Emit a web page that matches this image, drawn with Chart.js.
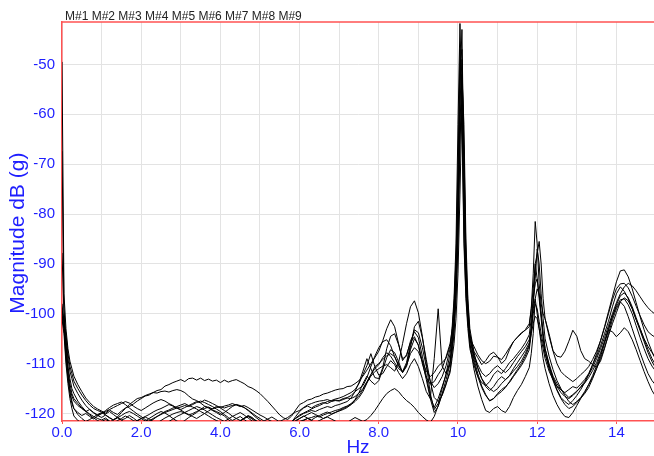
<!DOCTYPE html>
<html>
<head>
<meta charset="utf-8">
<script src="https://cdn.jsdelivr.net/npm/chart.js@4.4.1/dist/chart.umd.min.js"></script>
<style>
  html, body { margin: 0; padding: 0; background: #fff; }
  canvas { display: block; }
</style>
</head>
<body>
<canvas id="chart" width="654" height="456"></canvas>
<script>
// frequency axis (Hz), finer around 0, 10 and 12 Hz
const freq = [
  0, 0.05, 0.1, 0.15, 0.2, 0.25, 0.3,
  0.4, 0.5, 0.6, 0.7, 0.8, 0.9,
  1.0, 1.1, 1.2, 1.3, 1.4, 1.5, 1.6, 1.7, 1.8, 1.9,
  2.0, 2.1, 2.2, 2.3, 2.4, 2.5, 2.6, 2.7, 2.8, 2.9,
  3.0, 3.1, 3.2, 3.3, 3.4, 3.5, 3.6, 3.7, 3.8, 3.9,
  4.0, 4.1, 4.2, 4.3, 4.4, 4.5, 4.6, 4.7, 4.8, 4.9,
  5.0, 5.1, 5.2, 5.3, 5.4, 5.5, 5.6, 5.7, 5.8, 5.9,
  6.0, 6.1, 6.2, 6.3, 6.4, 6.5, 6.6, 6.7, 6.8, 6.9,
  7.0, 7.1, 7.2, 7.3, 7.4, 7.5, 7.6, 7.7, 7.8, 7.9,
  8.0, 8.1, 8.2, 8.3, 8.4, 8.5, 8.6, 8.7, 8.8, 8.9,
  9.0, 9.1, 9.2, 9.3, 9.4, 9.5, 9.6, 9.7, 9.8,
  9.85, 9.9, 9.95, 10.0, 10.05, 10.1, 10.15, 10.2, 10.25, 10.3,
  10.4, 10.5, 10.6, 10.7, 10.8, 10.9, 11.0, 11.1, 11.2, 11.3, 11.4, 11.5, 11.6, 11.7, 11.8,
  11.85, 11.9, 11.95, 12.0, 12.05, 12.1, 12.15, 12.2,
  12.3, 12.4, 12.5, 12.6, 12.7, 12.8, 12.9, 13.0, 13.1, 13.2, 13.3, 13.4, 13.5, 13.6,
  13.7, 13.8, 13.9, 14.0, 14.1, 14.2, 14.3, 14.4, 14.5, 14.6, 14.7, 14.8, 14.9, 15.0
];

const m1 = [
  -49.5, -96, -103, -107, -109.5, -111, -112.5,
  -114.2, -115.6, -116.9, -117.8, -118.6, -119.1,
  -119.5, -119.9, -119.3, -119.8, -120.2, -119.5, -118.9, -118.6, -118.1, -117.5,
  -117.0, -116.5, -116.3, -115.8, -115.4, -115.2, -114.5, -114.2, -113.8, -113.5,
  -113.2, -113.6, -113.0, -112.9, -113.3, -112.9, -113.4, -113.1, -113.5, -113.3,
  -113.8, -113.3, -113.7, -113.4, -113.2, -113.6, -114.0, -114.6, -114.9, -115.4,
  -116.0, -116.8, -117.6, -118.5, -119.4, -120.3, -120.9, -121.2, -120.5, -119.3,
  -118.2, -117.8, -117.3, -117.1, -116.7, -116.5, -116.1, -115.9, -115.6, -115.3,
  -115.1, -115.0, -114.6, -114.5, -114.0, -113.4, -112.5, -111.3, -110.0, -108.8,
  -107.5, -105.4, -103.0, -101.2, -102.6, -106.0, -109.4, -108.2, -105.8, -104.6,
  -106.4, -110.0, -112.8, -114.1, -113.6, -112.2, -111.0, -108.6, -106.0,
  -103.5, -99, -91, -80, -62, -52, -66, -88, -98, -104,
  -108.5, -111.0, -113.0, -114.2, -115.0, -115.6, -115.0, -114.0, -113.2, -112.5, -111.5, -110.6, -109.5, -108.0, -106.2,
  -104, -102, -100.5, -101, -103, -105, -107, -109,
  -111.5, -113.2, -114.5, -115.3, -115.8, -115.2, -114.6, -114.9, -114.1, -113.2, -112.0, -110.2, -108.5, -106.4,
  -104.0, -101.5, -98.6, -96.0, -94.6, -95.5, -97.0, -99.0, -101.2, -103.0, -105.0, -106.6, -107.8, -109.0
];

const m2 = [
  -67.4, -99, -105, -109, -111.5, -113, -114.5,
  -116.0, -117.3, -118.4, -119.2, -119.9, -120.4,
  -120.8, -120.3, -120.9, -121.3, -120.7, -119.8, -119.0, -118.2, -117.6, -117.0,
  -116.8, -116.4, -116.1, -115.8, -115.9, -115.6, -115.5, -115.7, -115.4, -115.2,
  -115.4, -115.8, -116.5, -117.1, -117.4, -117.9, -118.5, -118.8, -119.3, -119.6,
  -120.0, -120.5, -121.2, -121.8, -122.3, -121.6, -120.9, -120.4, -120.8, -121.5,
  -122.2, -122.8, -123.0, -122.5, -121.9, -122.6, -123.2, -122.8, -121.8, -120.6,
  -119.6, -118.9, -118.5, -118.9, -118.4, -118.1, -117.8, -118.0, -117.6, -117.4,
  -117.5, -117.2, -116.9, -117.0, -116.6, -115.9, -115.0, -113.6, -112.2, -111.0,
  -110.2, -108.8, -107.8, -108.5, -109.8, -111.0, -111.6, -110.4, -108.0, -106.8,
  -107.6, -109.5, -111.5, -112.6, -111.8, -110.5, -109.8, -108.9, -106.5,
  -103, -97, -86, -62, -41.8, -58, -84, -96, -102, -105,
  -106.5, -108.2, -109.4, -110.0, -109.5, -108.5, -108.7, -109.2, -108.1, -106.8, -105.6, -104.7, -104.0, -103.2, -102.0,
  -99, -95, -90, -88, -85.5, -90, -97, -101,
  -104.5, -107.5, -110.0, -111.6, -112.4, -113.0, -113.6, -113.0, -112.2, -111.5, -110.6, -109.2, -107.5, -105.4,
  -102.8, -100.0, -97.2, -95.0, -94.0, -93.9, -94.8, -96.5, -98.5, -100.4, -102.2, -103.6, -104.3, -104.8
];

const m3 = [
  -87.8, -100, -106.5, -110.5, -113, -115, -116,
  -117.5, -118.6, -119.5, -120.1, -120.6, -121.0,
  -121.3, -120.9, -121.5, -122.0, -121.4, -121.0, -120.5, -120.9, -121.4, -121.8,
  -122.3, -122.0, -121.5, -121.0, -120.6, -120.2, -119.8, -119.5, -119.2, -118.9,
  -118.7, -118.4, -118.6, -118.2, -117.8, -117.5, -117.8, -118.2, -118.6, -119.1,
  -119.6, -120.2, -120.8, -121.4, -121.0, -120.6, -121.2, -121.8, -122.3, -122.8,
  -123.2, -123.5, -123.0, -122.6, -122.2, -122.8, -123.3, -123.0, -122.4, -121.9,
  -121.6, -121.3, -121.0, -120.8, -120.5, -120.7, -120.3, -120.0, -119.7, -119.4,
  -119.2, -118.8, -118.5, -118.0, -117.3, -116.4, -115.2, -113.8, -112.5, -111.6,
  -111.0, -110.5, -110.2, -110.8, -111.5, -109.8, -106.0, -102.0, -98.6, -97.4,
  -99.8, -104.5, -110.0, -116.0, -119.2, -118.0, -115.0, -112.0, -108.0,
  -105, -100, -92, -75, -47, -62, -86, -97, -103, -107,
  -110.2, -112.6, -113.8, -114.4, -113.6, -112.2, -111.4, -112.0, -111.0, -109.8, -109.0, -108.0, -107.0, -105.8, -104.2,
  -101, -97, -94, -93, -96, -100, -104, -107,
  -110.0, -112.5, -114.0, -115.2, -116.0, -116.8, -116.2, -115.5, -114.8, -113.9, -112.8, -111.4, -109.8, -107.8,
  -105.6, -103.0, -100.5, -98.6, -97.2, -97.0, -98.2, -100.0, -102.4, -104.8, -107.0, -109.0, -110.5, -111.6
];

const m4 = [
  -99.5, -101, -108, -112, -115, -116.5, -117.5,
  -118.4, -119.0, -119.6, -119.2, -119.8, -120.3,
  -120.0, -119.4, -118.8, -118.3, -118.0, -117.7, -118.2, -118.9, -119.5, -120.1,
  -120.6, -121.2, -121.6, -121.2, -120.6, -120.1, -119.6, -119.3, -118.9, -118.6,
  -118.3, -118.0, -118.4, -118.0, -117.6, -117.8, -117.3, -117.6, -118.0, -118.4,
  -118.9, -119.4, -119.9, -120.5, -121.0, -121.4, -121.0, -120.5, -120.9, -121.4,
  -121.9, -122.4, -122.0, -121.6, -121.8, -122.3, -122.8, -122.4, -121.6, -121.0,
  -120.5, -120.0, -119.7, -119.4, -119.6, -119.2, -118.9, -118.6, -118.8, -118.4,
  -118.2, -117.9, -117.6, -116.9, -115.6, -113.8, -111.5, -109.0, -111.0, -112.8,
  -113.0, -110.8, -107.0, -104.5, -104.0, -106.2, -109.0, -108.5, -105.5, -103.6,
  -104.8, -108.5, -112.4, -116.6, -118.8, -117.0, -114.6, -112.2, -109.5,
  -106, -101, -94, -82, -58, -49, -70, -92, -100, -105,
  -109.0, -112.0, -114.5, -116.2, -117.5, -117.0, -116.2, -115.6, -114.8, -113.6, -112.4, -111.2, -110.0, -108.5, -106.5,
  -103, -98, -93, -87, -90, -96, -101, -105,
  -108.5, -111.2, -113.4, -115.0, -116.4, -117.6, -118.2, -117.6, -116.8, -115.6, -114.2, -112.8, -111.0, -109.0,
  -106.8, -104.4, -102.0, -99.8, -97.6, -96.8, -97.4, -99.0, -101.2, -103.4, -105.6, -107.8, -109.6, -111.0
];

const m5 = [
  -98, -102, -104, -108, -110.5, -112, -113.5,
  -115.0, -116.3, -117.4, -118.3, -119.0, -119.4,
  -119.7, -120.1, -119.6, -120.2, -120.8, -121.3, -121.0, -120.4, -120.9, -121.5,
  -122.0, -121.6, -121.0, -120.5, -120.0, -119.6, -119.9, -120.4, -121.0, -121.5,
  -121.9, -121.4, -120.8, -120.3, -119.8, -119.2, -118.6, -118.9, -119.4, -119.8,
  -120.3, -119.8, -119.2, -118.6, -118.2, -118.5, -118.8, -119.4, -120.1, -120.8,
  -121.4, -122.0, -122.5, -122.1, -121.7, -122.3, -122.8, -122.4, -121.7, -120.9,
  -120.3, -119.9, -119.5, -119.1, -118.7, -118.4, -118.0, -117.6, -117.4, -117.1,
  -116.9, -116.6, -116.2, -115.8, -115.2, -114.0, -112.2, -110.4, -108.0, -110.6,
  -112.3, -112.0, -110.6, -109.4, -110.2, -111.8, -113.0, -112.0, -110.2, -109.0,
  -110.6, -113.0, -115.6, -117.0, -109.0, -99.0, -110.5, -112.0, -110.0,
  -107, -103, -95, -80, -55, -43, -72, -93, -101, -106,
  -109.6, -112.6, -114.8, -116.4, -117.4, -117.0, -116.0, -115.2, -114.6, -113.8, -112.6, -111.5, -110.4, -109.0, -107.2,
  -104, -98, -90, -93, -97, -101, -105, -108,
  -111.0, -113.4, -115.4, -117.0, -118.2, -119.0, -118.6, -117.8, -116.9, -116.0, -114.8, -113.0, -111.0, -108.6,
  -106.0, -103.2, -100.6, -98.2, -96.4, -95.8, -96.8, -98.6, -100.8, -103.0, -105.2, -107.2, -109.0, -110.4
];

const m6 = [
  -100, -103, -109, -113, -116, -118, -119,
  -119.8, -120.4, -120.0, -120.6, -121.1, -120.5,
  -120.0, -119.6, -119.2, -118.8, -118.4, -118.0, -117.6, -117.9, -118.5, -119.0,
  -119.4, -118.9, -118.4, -117.9, -117.5, -117.2, -117.5, -118.0, -118.4, -118.9,
  -119.3, -119.8, -120.2, -120.6, -121.0, -120.5, -120.0, -119.5, -119.0, -118.6,
  -118.8, -118.5, -118.3, -118.0, -118.3, -118.6, -118.4, -118.8, -119.3, -119.8,
  -120.3, -120.7, -121.2, -121.6, -122.0, -121.6, -121.2, -120.8, -120.2, -119.7,
  -119.4, -118.8, -118.3, -118.0, -117.7, -117.5, -117.4, -117.2, -117.5, -117.3,
  -117.4, -117.0, -116.8, -116.4, -115.6, -115.0, -114.4, -112.8, -110.6, -108.5,
  -106.8, -105.6, -105.2, -106.4, -108.6, -110.5, -111.6, -109.8, -106.2, -103.2,
  -103.8, -106.8, -110.6, -113.5, -114.8, -114.0, -112.6, -110.4, -107.0,
  -104, -98, -89, -70, -50, -47, -70, -90, -99, -104,
  -107.5, -108.8, -110.2, -109.4, -108.2, -107.7, -108.6, -110.0, -109.2, -107.2, -105.6, -104.7, -103.8, -103.3, -102.6,
  -99, -92, -81.5, -86, -94, -98, -100, -101,
  -104.0, -107.4, -108.5, -108.7, -107.5, -105.5, -103.3, -104.5, -107.4, -109.0, -109.5, -110.2, -110.7, -109.5,
  -107.0, -104.0, -101.2, -99.0, -97.6, -98.5, -100.6, -103.0, -105.4, -107.8, -110.0, -112.0, -113.4, -114.4
];

const m7 = [
  -99, -101.5, -106, -111, -114, -116, -117,
  -118.0, -118.9, -119.6, -120.3, -120.9, -121.4,
  -121.8, -122.3, -121.8, -121.2, -120.8, -121.3, -121.9, -122.4, -122.0, -121.5,
  -121.0, -120.6, -120.2, -119.7, -119.3, -119.0, -118.6, -118.2, -118.5, -118.9,
  -119.2, -118.8, -118.4, -118.7, -119.1, -119.6, -120.0, -120.5, -121.0, -121.4,
  -121.8, -122.3, -122.8, -122.4, -121.9, -121.5, -121.0, -120.6, -121.1, -121.7,
  -122.2, -122.7, -123.1, -122.6, -122.0, -121.5, -121.9, -122.4, -122.0, -121.4,
  -121.0, -120.6, -120.2, -119.8, -120.2, -120.6, -121.0, -120.6, -120.2, -119.8,
  -119.5, -119.2, -118.8, -118.2, -117.2, -115.8, -114.0, -112.5, -113.5, -114.2,
  -113.4, -111.2, -108.8, -107.2, -107.8, -109.6, -111.8, -110.6, -107.2, -105.0,
  -106.2, -109.6, -113.2, -117.0, -119.8, -118.6, -116.0, -113.2, -110.0,
  -106, -102, -96, -84, -66, -52, -62, -85, -97, -103,
  -107.6, -110.8, -113.0, -114.6, -115.4, -114.6, -113.4, -112.6, -113.2, -112.4, -111.0, -109.8, -108.6, -107.4, -105.8,
  -103, -99, -97, -95, -96, -100, -104, -107,
  -110.4, -113.0, -115.2, -116.8, -117.6, -118.2, -117.4, -116.4, -115.2, -113.8, -112.2, -110.2, -108.0, -105.4,
  -102.6, -99.6, -96.6, -93.6, -91.4, -91.2, -92.6, -95.0, -97.8, -100.6, -103.2, -105.6, -107.6, -109.4
];

const m8 = [
  -101, -104, -110, -114, -117, -119, -120.5,
  -121.4, -122.0, -122.6, -123.0, -122.5, -122.0,
  -121.6, -121.2, -121.6, -122.2, -122.8, -123.2, -122.8, -122.3, -121.8, -121.4,
  -121.0, -120.7, -121.1, -121.6, -122.2, -122.6, -122.2, -121.6, -121.1, -120.6,
  -120.2, -119.8, -119.4, -119.0, -118.6, -118.9, -119.3, -119.8, -120.3, -120.8,
  -121.2, -121.6, -121.1, -120.6, -120.2, -119.8, -120.3, -120.9, -121.5, -122.0,
  -122.5, -123.0, -123.4, -123.0, -122.6, -123.1, -123.6, -123.2, -122.7, -122.2,
  -121.8, -121.4, -121.0, -121.4, -121.8, -121.4, -121.0, -120.7, -121.1, -121.5,
  -121.9, -122.2, -121.8, -121.3, -120.8, -121.2, -121.6, -121.2, -120.4, -119.4,
  -118.2, -117.0, -116.0, -115.4, -115.0, -115.6, -116.6, -117.4, -118.0, -118.8,
  -119.8, -120.6, -121.3, -121.8, -120.6, -118.4, -116.2, -114.0, -111.8,
  -109, -106, -101, -92, -76, -58, -68, -90, -100, -106,
  -111.0, -114.5, -117.2, -119.4, -119.8, -119.0, -118.6, -119.4, -119.8, -118.6, -116.8, -115.4, -114.2, -112.6, -110.8,
  -108, -104, -97, -100, -103, -106, -109, -111,
  -114.0, -116.4, -118.2, -119.6, -120.6, -120.8, -119.8, -118.4, -117.0, -115.8, -114.2, -112.4, -110.4, -108.2,
  -105.6, -103.3, -103.6, -104.6, -103.8, -102.8, -103.6, -105.2, -107.2, -109.4, -111.6, -113.6, -115.4, -116.7
];

const m9 = [
  -100.5, -103, -107.5, -112, -115.5, -117.5, -119,
  -120.2, -121.0, -121.6, -121.2, -120.7, -120.2,
  -119.8, -120.3, -120.8, -121.3, -120.9, -120.4, -119.9, -119.6, -120.0, -120.5,
  -121.0, -121.5, -121.9, -122.3, -121.9, -121.4, -120.9, -120.5, -120.1, -119.8,
  -119.6, -119.9, -120.3, -120.0, -119.6, -119.2, -119.0, -118.7, -119.1, -118.8,
  -118.6, -118.9, -118.6, -118.4, -118.2, -118.4, -118.8, -119.3, -119.9, -120.5,
  -121.0, -121.5, -121.1, -120.7, -121.2, -121.7, -122.2, -122.6, -122.2, -121.6,
  -121.0, -120.5, -120.9, -121.3, -120.8, -120.4, -120.0, -119.7, -120.1, -119.8,
  -119.4, -119.0, -118.6, -118.2, -117.6, -116.8, -115.6, -113.9, -112.2, -110.6,
  -110.0, -109.2, -108.4, -108.0, -108.6, -110.2, -111.8, -110.2, -106.8, -102.6,
  -101.5, -104.8, -109.2, -113.6, -116.8, -117.6, -116.4, -114.2, -111.2,
  -108, -104, -97, -86, -64, -60, -78, -94, -101, -105,
  -108.2, -110.2, -111.8, -112.6, -112.0, -111.0, -110.4, -111.2, -111.8, -111.0, -109.8, -108.6, -107.6, -106.6, -105.2,
  -103, -100, -98, -99, -101.5, -104, -106, -108,
  -110.6, -112.8, -114.6, -115.8, -116.6, -117.0, -116.4, -115.6, -114.6, -113.6, -112.2, -110.8, -109.0, -107.0,
  -104.8, -102.4, -100.0, -97.8, -96.0, -94.6, -93.9, -94.4, -95.4, -96.6, -97.8, -98.8, -99.6, -100.2
];

const seriesLabels = ['M#1', 'M#2', 'M#3', 'M#4', 'M#5', 'M#6', 'M#7', 'M#8', 'M#9'];
const seriesValues = [m1, m2, m3, m4, m5, m6, m7, m8, m9];

const xGridValues = [0, 1, 2, 3, 4, 5, 6, 7, 8, 9, 10, 11, 12, 13, 14];
const xTickValues = [0, 2, 4, 6, 8, 10, 12, 14];
const xTickLabels = ['0.0', '2.0', '4.0', '6.0', '8.0', '10', '12', '14'];
const yTickValues = [-120, -110, -100, -90, -80, -70, -60, -50];

const BLUE = '#1e1eff';
const RED = '#ff5252';
const GRID = '#e3e3e3';
const FONT = '"Liberation Sans", Arial, sans-serif';

// red line along the top of the plot + the series names above it
const frameTop = {
  id: 'frameTop',
  afterDraw(chart) {
    const {ctx, chartArea} = chart;
    ctx.save();
    ctx.strokeStyle = RED;
    ctx.lineWidth = 1.5;
    ctx.beginPath();
    ctx.moveTo(chartArea.left, chartArea.top);
    ctx.lineTo(chartArea.right, chartArea.top);
    ctx.stroke();
    ctx.fillStyle = '#222';
    ctx.font = '12px ' + FONT;
    ctx.textBaseline = 'alphabetic';
    ctx.fillText(chart.data.datasets.map(d => d.label).join(' '), chartArea.left + 3, 20);
    ctx.restore();
  }
};

new Chart(document.getElementById('chart'), {
  type: 'line',
  data: {
    labels: freq,
    datasets: seriesValues.map((vals, i) => ({
      label: seriesLabels[i],
      data: vals,
      borderColor: '#000',
      borderWidth: 1,
      pointRadius: 0,
      tension: 0,
      fill: false
    }))
  },
  options: {
    responsive: false,
    animation: false,
    layout: { padding: { top: 22, left: 0, right: 0, bottom: 0 } },
    plugins: {
      legend: { display: false },
      tooltip: { enabled: false }
    },
    scales: {
      x: {
        type: 'linear',
        min: 0,
        max: 14.95,
        afterBuildTicks: s => { s.ticks = xGridValues.map(v => ({ value: v })); },
        afterFit: s => { s.height = 35; },
        grid: {
          color: GRID,
          tickLength: 3,
          tickColor: c => xTickValues.includes(c.tick.value) ? RED : 'rgba(0,0,0,0)'
        },
        border: { color: RED, width: 1.5 },
        ticks: {
          color: BLUE,
          font: { family: FONT, size: 15 },
          padding: 0,
          maxRotation: 0,
          autoSkip: false,
          callback: v => {
            const i = xTickValues.indexOf(v);
            return i < 0 ? '' : xTickLabels[i];
          }
        },
        title: {
          display: true,
          text: 'Hz',
          color: BLUE,
          font: { family: FONT, size: 19, lineHeight: 0.9 },
          padding: 0
        }
      },
      y: {
        min: -121.5,
        max: -41.5,
        afterBuildTicks: s => { s.ticks = yTickValues.map(v => ({ value: v })); },
        afterFit: s => { s.width = 62; },
        grid: { color: GRID, drawTicks: false },
        border: { color: RED, width: 1.5 },
        ticks: {
          color: BLUE,
          font: { family: FONT, size: 15 },
          padding: 7,
          callback: v => String(v)
        },
        title: {
          display: true,
          text: 'Magnitude dB (g)    ',
          color: BLUE,
          font: { family: FONT, size: 21, lineHeight: 1 },
          padding: { top: 8, bottom: 0 }
        }
      }
    }
  },
  plugins: [frameTop]
});
</script>
</body>
</html>
